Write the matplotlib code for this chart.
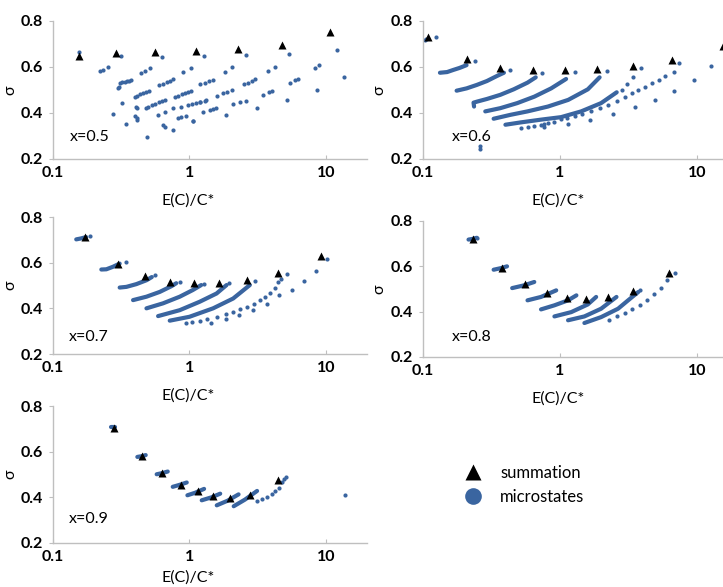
import matplotlib.pyplot as plt
from matplotlib.lines import Line2D
from matplotlib.ticker import NullLocator

plt.rcParams['font.family'] = ['Lato', 'DejaVu Sans']
BLUE = '#3A65A0'
W, H = 723, 587

# ---------- x=0.5 ----------
p1_tri_x = [0.155, 0.29, 0.56, 1.12, 2.27, 4.8, 10.7]
p1_tri_y = [0.649, 0.66, 0.664, 0.67, 0.678, 0.696, 0.751]
p1_dots_x = [0.154, 0.22, 0.233, 0.253, 0.317, 0.3, 0.302, 0.309, 0.322, 0.335, 0.35, 0.362, 0.375,
             0.323, 0.273, 0.345, 0.397, 0.415, 0.435, 0.455, 0.48, 0.505, 0.404, 0.412, 0.4, 0.41, 0.415,
             0.444, 0.475, 0.511, 0.491, 0.477, 0.5, 0.53, 0.56, 0.6, 0.63, 0.657, 0.587, 0.638, 0.657, 0.755,
             0.63, 0.6, 0.64, 0.68, 0.72, 0.755, 0.66, 0.755, 0.87, 0.83, 0.87, 0.95, 1.07,
             0.78, 0.83, 0.88, 0.93, 0.98, 1.03, 0.89, 1.03, 1.27, 1.2, 1.32, 1.265,
             0.98, 1.05, 1.12, 1.2, 1.29, 1.07, 1.2, 1.3, 1.4, 1.5, 1.42, 1.5, 1.57,
             1.85, 1.59, 1.75, 1.9, 2.05, 1.82, 2.05, 2.59, 2.1, 2.35, 2.58,
             2.52, 2.7, 2.85, 3.03, 3.13, 3.47, 3.8, 4.05, 3.77, 4.22, 5.22, 5.37,
             5.43, 5.94, 6.28, 8.27, 8.94, 8.55, 11.97, 13.5]
p1_dots_y = [0.666, 0.581, 0.587, 0.601, 0.648, 0.51, 0.514, 0.529, 0.533, 0.536, 0.539, 0.541, 0.543,
             0.445, 0.396, 0.352, 0.471, 0.476, 0.481, 0.486, 0.491, 0.497, 0.427, 0.42, 0.388, 0.377, 0.37,
             0.575, 0.584, 0.594, 0.297, 0.42, 0.426, 0.433, 0.44, 0.447, 0.452, 0.457, 0.391, 0.348, 0.338, 0.326,
             0.643, 0.522, 0.528, 0.535, 0.541, 0.547, 0.406, 0.42, 0.425, 0.377, 0.384, 0.387, 0.367,
             0.471, 0.476, 0.482, 0.487, 0.492, 0.497, 0.58, 0.597, 0.648, 0.449, 0.457, 0.406,
             0.433, 0.438, 0.443, 0.447, 0.454, 0.365, 0.526, 0.532, 0.538, 0.543, 0.412, 0.416, 0.42,
             0.39, 0.474, 0.485, 0.492, 0.499, 0.58, 0.599, 0.651, 0.438, 0.448, 0.454,
             0.524, 0.53, 0.538, 0.547, 0.42, 0.479, 0.49, 0.496, 0.584, 0.601, 0.457, 0.658,
             0.53, 0.543, 0.549, 0.594, 0.61, 0.5, 0.675, 0.556]
p1_bands = []

# ---------- x=0.6 ----------
p2_tri_x = [0.109, 0.208, 0.365, 0.632, 1.09, 1.88, 3.4, 6.58, 15.5]
p2_tri_y = [0.731, 0.633, 0.597, 0.587, 0.587, 0.593, 0.604, 0.63, 0.69]
p2_bands = [
    ([0.133, 0.15, 0.166, 0.185, 0.208], [0.575, 0.578, 0.587, 0.596, 0.608]),
    ([0.176, 0.208, 0.247, 0.293, 0.347, 0.39], [0.497, 0.507, 0.522, 0.539, 0.561, 0.575]),
    ([0.236, 0.234, 0.25, 0.293, 0.367, 0.46, 0.58, 0.666], [0.428, 0.445, 0.45, 0.461, 0.479, 0.503, 0.532, 0.555]),
    ([0.285, 0.367, 0.488, 0.65, 0.863, 1.11], [0.407, 0.421, 0.443, 0.471, 0.507, 0.548]),
    ([0.328, 0.435, 0.58, 0.817, 1.15, 1.6, 1.95], [0.375, 0.392, 0.407, 0.428, 0.457, 0.503, 0.555]),
    ([0.4, 0.516, 0.725, 1.02, 1.43, 2.0, 2.6], [0.349, 0.359, 0.371, 0.382, 0.407, 0.443, 0.49]),
]
p2_dots_x = [0.103, 0.105, 0.125, 0.24, 0.435, 0.745, 1.28, 2.19, 2.82, 3.1, 3.43, 3.9,
             0.516, 0.58, 0.65, 0.73, 0.817, 0.9, 1.02, 1.13, 1.28, 1.45, 1.69, 1.95, 2.24, 2.6,
             2.98, 3.35, 3.73, 4.2, 4.68, 5.3, 5.88, 6.77, 7.45,
             12.8, 9.5, 6.85, 4.95, 3.53, 2.44, 1.67, 1.14, 0.76, 0.76, 0.259, 0.262]
p2_dots_y = [0.716, 0.72, 0.731, 0.627, 0.587, 0.575, 0.58, 0.584, 0.5, 0.525, 0.555, 0.594,
             0.335, 0.34, 0.345, 0.35, 0.356, 0.363, 0.373, 0.378, 0.385, 0.395, 0.407, 0.42, 0.435, 0.452,
             0.471, 0.485, 0.5, 0.515, 0.529, 0.545, 0.561, 0.58, 0.618,
             0.604, 0.544, 0.497, 0.457, 0.424, 0.397, 0.371, 0.352, 0.339, 0.353, 0.255, 0.244]

# ---------- x=0.7 ----------
p3_tri_x = [0.173, 0.3, 0.47, 0.717, 1.08, 1.64, 2.62, 4.47, 9.14]
p3_tri_y = [0.713, 0.596, 0.541, 0.516, 0.509, 0.512, 0.523, 0.555, 0.628]
p3_bands = [
    ([0.148, 0.16, 0.175], [0.702, 0.706, 0.712]),
    ([0.226, 0.246, 0.275, 0.308], [0.57, 0.571, 0.582, 0.596]),
    ([0.308, 0.345, 0.408, 0.484, 0.53], [0.491, 0.494, 0.506, 0.523, 0.537]),
    ([0.386, 0.484, 0.606, 0.738, 0.8], [0.436, 0.451, 0.472, 0.497, 0.51]),
    ([0.484, 0.641, 0.849, 1.057, 1.22], [0.4, 0.422, 0.451, 0.48, 0.502]),
    ([0.589, 0.849, 1.19, 1.58, 1.87], [0.366, 0.392, 0.429, 0.465, 0.502]),
    ([0.717, 1.0, 1.49, 2.09, 2.77], [0.346, 0.363, 0.4, 0.443, 0.502]),
]
p3_dots_x = [0.187, 0.341, 0.557, 0.849, 1.27, 1.95, 3.03,
             0.95, 1.05, 1.19, 1.35, 1.58, 1.85, 2.09, 2.35, 2.62, 2.95, 3.28, 3.6, 3.88, 4.2, 4.47, 4.7, 5.15,
             1.43, 1.85, 2.31, 2.93, 3.67, 4.55, 5.63, 6.9, 8.45, 10.2]
p3_dots_y = [0.716, 0.602, 0.545, 0.516, 0.506, 0.509, 0.521,
             0.334, 0.338, 0.346, 0.355, 0.363, 0.375, 0.385, 0.395, 0.404, 0.42, 0.436, 0.45, 0.465, 0.49, 0.516, 0.53, 0.549,
             0.337, 0.355, 0.371, 0.392, 0.419, 0.46, 0.48, 0.521, 0.564, 0.618]

# ---------- x=0.8 ----------
p4_tri_x = [0.231, 0.378, 0.555, 0.8, 1.12, 1.56, 2.24, 3.41, 6.23]
p4_tri_y = [0.722, 0.594, 0.524, 0.484, 0.46, 0.456, 0.463, 0.491, 0.571]
p4_bands = [
    ([0.215, 0.23, 0.247], [0.718, 0.721, 0.726]),
    ([0.328, 0.37, 0.411], [0.585, 0.592, 0.6]),
    ([0.448, 0.546, 0.65], [0.504, 0.516, 0.531]),
    ([0.58, 0.728, 0.94], [0.45, 0.465, 0.494]),
    ([0.728, 0.912, 1.147, 1.32], [0.41, 0.428, 0.45, 0.472]),
    ([0.912, 1.21, 1.6, 1.84], [0.379, 0.398, 0.432, 0.465]),
    ([1.147, 1.51, 2.0, 2.59], [0.362, 0.379, 0.413, 0.465]),
    ([1.51, 2.0, 2.66, 3.15, 3.74], [0.35, 0.376, 0.413, 0.45, 0.487]),
]
p4_dots_x = [0.25, 2.27, 2.6, 2.98, 3.37, 3.85, 4.31, 4.87, 5.49, 6.09, 6.89, 3.85]
p4_dots_y = [0.726, 0.362, 0.379, 0.394, 0.412, 0.431, 0.453, 0.476, 0.506, 0.538, 0.571, 0.497]

# ---------- x=0.9 ----------
p5_tri_x = [0.279, 0.446, 0.633, 0.868, 1.16, 1.5, 1.99, 2.79, 4.46]
p5_tri_y = [0.705, 0.58, 0.507, 0.456, 0.428, 0.405, 0.399, 0.409, 0.478]
p5_bands = [
    ([0.264, 0.275, 0.285], [0.709, 0.709, 0.709]),
    ([0.415, 0.445, 0.478], [0.577, 0.58, 0.585]),
    ([0.575, 0.63, 0.693], [0.501, 0.506, 0.513]),
    ([0.754, 0.85, 0.955], [0.446, 0.455, 0.465]),
    ([0.966, 1.1, 1.28], [0.409, 0.42, 0.437]),
    ([1.23, 1.45, 1.68], [0.387, 0.4, 0.416]),
    ([1.585, 1.9, 2.29], [0.365, 0.385, 0.413]),
    ([2.11, 2.55, 3.13], [0.361, 0.39, 0.428]),
]
p5_dots_x = [3.13, 3.4, 3.7, 4.03, 4.27, 4.51, 4.77, 4.96, 5.14, 13.8]
p5_dots_y = [0.384, 0.394, 0.402, 0.413, 0.427, 0.443, 0.468, 0.482, 0.49, 0.412]


def panel(fig, left, top, right, bottom, tri_x, tri_y, dots_x, dots_y, bands, tag, tag_xy, xlab_y=-0.25):
    ax = fig.add_axes([left / W, 1 - bottom / H, (right - left) / W, (bottom - top) / H])
    for bx, by in bands:
        ax.plot(bx, by, '-', color=BLUE, lw=3.0, solid_capstyle='round', zorder=2)
    ax.plot(dots_x, dots_y, 'o', color=BLUE, ms=3.0, mec='none', zorder=2)
    ax.plot(tri_x, tri_y, '^', color='black', ms=6, mec='none', zorder=3)
    ax.set_xscale('log')
    ax.set_xlim(0.1, 20)
    ax.set_ylim(0.2, 0.8)
    ax.set_xticks([0.1, 1, 10])
    ax.set_xticklabels(['0.1', '1', '10'])
    ax.xaxis.set_minor_locator(NullLocator())
    ax.set_yticks([0.2, 0.4, 0.6, 0.8])
    ax.set_yticklabels(['0.2', '0.4', '0.6', '0.8'])
    for s in ['top', 'right']:
        ax.spines[s].set_visible(False)
    for s in ['left', 'bottom']:
        ax.spines[s].set_color('#BFBFBF')
        ax.spines[s].set_linewidth(1.0)
    ax.tick_params(axis='x', direction='in', length=3, color='#BFBFBF', pad=5, labelsize=11.5)
    ax.tick_params(axis='y', direction='out', length=3, color='#BFBFBF', pad=4, labelsize=11.5)
    for lab in ax.get_xticklabels() + ax.get_yticklabels():
        lab.set_fontweight('bold')
    ax.set_xlabel('E(C)/C*', fontsize=11.5)
    ax.xaxis.set_label_coords(0.43, xlab_y)
    ax.set_ylabel('σ', fontsize=11.5)
    ax.yaxis.set_label_coords(-0.115, 0.5)
    ax.text(tag_xy[0], tag_xy[1], tag, transform=ax.transAxes, fontsize=11.5, va='center', ha='left')
    return ax


fig = plt.figure(figsize=(W / 100, H / 100), dpi=100)
panel(fig, 53, 21, 367, 159, p1_tri_x, p1_tri_y, p1_dots_x, p1_dots_y, p1_bands, 'x=0.5', (0.054, 0.16))
panel(fig, 423, 21, 738, 159, p2_tri_x, p2_tri_y, p2_dots_x, p2_dots_y, p2_bands, 'x=0.6', (0.092, 0.16))
panel(fig, 53, 217, 367, 354, p3_tri_x, p3_tri_y, p3_dots_x, p3_dots_y, p3_bands, 'x=0.7', (0.05, 0.124))
panel(fig, 423, 221, 738, 357, p4_tri_x, p4_tri_y, p4_dots_x, p4_dots_y, p4_bands, 'x=0.8', (0.092, 0.147))
panel(fig, 53, 406, 367, 543, p5_tri_x, p5_tri_y, p5_dots_x, p5_dots_y, p5_bands, 'x=0.9', (0.05, 0.175),
      xlab_y=-0.2)

handles = [Line2D([], [], ls='none', marker='^', color='black', ms=12, mec='none'),
           Line2D([], [], ls='none', marker='o', color=BLUE, ms=12, mec='none')]
fig.legend(handles, ['summation', 'microstates'], loc='center left',
           bbox_to_anchor=(450 / W, 1 - 485 / H), frameon=False, fontsize=12,
           handletextpad=0.6, labelspacing=0.5, borderaxespad=0)

fig.savefig('out.png', dpi=100)
